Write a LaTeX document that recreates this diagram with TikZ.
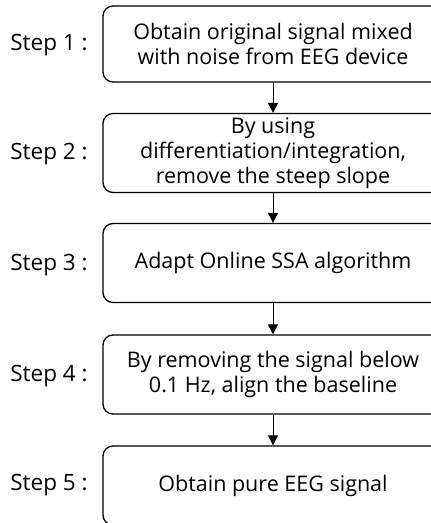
\documentclass[tikz,border=0pt]{standalone}
\usepackage{fontspec}
\setmainfont{Open Sans}
\usetikzlibrary{arrows.meta}
\tikzstyle{stepbox}=[draw=black, line width=1.3pt, rounded corners=10pt, minimum width=340pt, minimum height=79pt, align=center, inner sep=0pt, font=\fontsize{21.5}{25}\selectfont]
\tikzstyle{steplabel}=[inner sep=0pt, font=\fontsize{22.5}{25}\selectfont]
\tikzstyle{flow}=[draw=black, line width=0.9pt, -{Triangle[width=10pt,length=10pt]}]

\begin{document}
\begin{tikzpicture}[x=1pt, y=-1pt]
	\useasboundingbox (0,0) rectangle (431,523);
	\clip (0,0) rectangle (431,523);
	% boxes
	\node[stepbox, minimum height=76pt](s1) at (273,44) {Obtain original signal mixed\\with noise from EEG device};
	\node[stepbox](s2) at (273,153) {By using\\differentiation/integration,\\remove the steep slope};
	\node[stepbox](s3) at (273,263) {Adapt Online SSA algorithm};
	\node[stepbox](s4) at (273,374.5) {By removing the signal below\\0.1 Hz, align the baseline};
	\node[stepbox](s5) at (273,485.5) {Obtain pure EEG signal};
	% labels
	\node[steplabel](l1) at (49,45) {Step 1 :};
	\node[steplabel](l2) at (49,154) {Step 2 :};
	\node[steplabel](l3) at (49,265) {Step 3 :};
	\node[steplabel](l4) at (49,376) {Step 4 :};
	\node[steplabel](l5) at (49,485) {Step 5 :};
	\foreach \a/\b in {s1/s2, s2/s3, s3/s4, s4/s5}
		\path[flow] (\a) -- (\b);
\end{tikzpicture}
\end{document}
